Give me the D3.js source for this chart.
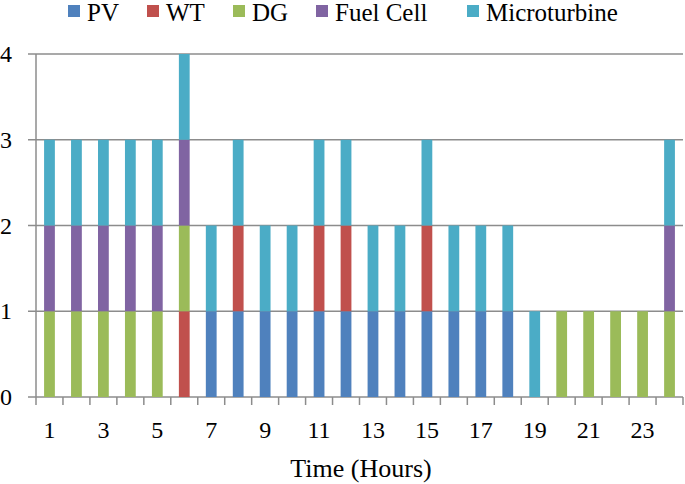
<!DOCTYPE html>
<html>
<head>
<meta charset="utf-8">
<script src="https://cdn.jsdelivr.net/npm/d3@7"></script>
<style>
  body { margin: 0; background: #fff; }
</style>
</head>
<body>
<div id="chart"></div>
<script>
// DATA
const hours = d3.range(1, 25);
const series = ['PV', 'WT', 'DG', 'Fuel Cell', 'Microturbine'];
const pv = [0,0,0,0,0,0,1,1,1,1,1,1,1,1,1,1,1,1,0,0,0,0,0,0];
const wt = [0,0,0,0,0,1,0,1,0,0,1,1,0,0,1,0,0,0,0,0,0,0,0,0];
const dg = [1,1,1,1,1,1,0,0,0,0,0,0,0,0,0,0,0,0,0,1,1,1,1,1];
const fuelCell = [1,1,1,1,1,1,0,0,0,0,0,0,0,0,0,0,0,0,0,0,0,0,0,1];
const microturbine = [1,1,1,1,1,1,1,1,1,1,1,1,1,1,1,1,1,1,1,0,0,0,0,1];
const yTicks = [0, 1, 2, 3, 4];
const colors = ['#4f81bd', '#c0504d', '#9bbb59', '#8064a2', '#4bacc6'];

const width = 685, height = 484;
const margin = { top: 54, right: 2, bottom: 87, left: 36 };
const font = '"Liberation Serif", "Times New Roman", serif';

// build rows for d3.stack
const rows = hours.map((h, i) => ({
  hour: h,
  'PV': pv[i],
  'WT': wt[i],
  'DG': dg[i],
  'Fuel Cell': fuelCell[i],
  'Microturbine': microturbine[i]
}));
const stacked = d3.stack().keys(series)(rows);

const svg = d3.select('#chart').append('svg')
  .attr('width', width)
  .attr('height', height)
  .style('font-family', font);

// SCALES
const xScale = d3.scaleBand()
  .domain(hours)
  .range([margin.left, width - margin.right])
  .paddingInner(0.6)
  .paddingOuter(0.3);

const yScale = d3.scaleLinear()
  .domain([0, 4])
  .range([height - margin.bottom, margin.top]);

const color = d3.scaleOrdinal().domain(series).range(colors);

// gridlines
svg.append('g')
  .selectAll('line')
  .data(yTicks)
  .join('line')
  .attr('x1', margin.left - 8)
  .attr('x2', width - margin.right)
  .attr('y1', d => yScale(d))
  .attr('y2', d => yScale(d))
  .attr('stroke', '#8c8c8c')
  .attr('stroke-width', 1.5);

// y axis line
svg.append('line')
  .attr('x1', margin.left).attr('x2', margin.left)
  .attr('y1', yScale(4)).attr('y2', yScale(0))
  .attr('stroke', '#8c8c8c')
  .attr('stroke-width', 1.5);

// y labels
svg.append('g')
  .selectAll('text')
  .data(yTicks)
  .join('text')
  .attr('x', 12)
  .attr('y', d => yScale(d))
  .attr('dy', '0.34em')
  .attr('text-anchor', 'end')
  .style('font-size', '24px')
  .text(d => d);

// bars
svg.append('g')
  .selectAll('g')
  .data(stacked)
  .join('g')
  .attr('fill', d => color(d.key))
  .selectAll('rect')
  .data(d => d.filter(s => s[1] - s[0] > 0))
  .join('rect')
  .attr('x', d => xScale(d.data.hour))
  .attr('width', xScale.bandwidth())
  .attr('y', d => yScale(d[1]))
  .attr('height', d => yScale(d[0]) - yScale(d[1]));

// x axis ticks at band boundaries
const bounds = d3.range(0, hours.length + 1).map(i => margin.left + i * (width - margin.right - margin.left) / hours.length);
svg.append('g')
  .selectAll('line')
  .data(bounds)
  .join('line')
  .attr('x1', d => d).attr('x2', d => d)
  .attr('y1', yScale(0)).attr('y2', yScale(0) + 8)
  .attr('stroke', '#8c8c8c')
  .attr('stroke-width', 1.5);

// x labels, every other hour
svg.append('g')
  .selectAll('text')
  .data(hours.filter(h => h % 2 === 1))
  .join('text')
  .attr('x', d => xScale(d) + xScale.bandwidth() / 2)
  .attr('y', 438)
  .attr('text-anchor', 'middle')
  .style('font-size', '24px')
  .text(d => d);

// axis title
svg.append('text')
  .attr('x', 361)
  .attr('y', 477)
  .attr('text-anchor', 'middle')
  .style('font-size', '26px')
  .text('Time (Hours)');

// legend
const legendX = [68, 147, 233, 316, 467];
const legend = svg.append('g')
  .selectAll('g')
  .data(series)
  .join('g')
  .attr('transform', (d, i) => `translate(${legendX[i]},0)`);
legend.append('rect')
  .attr('x', 0).attr('y', 5)
  .attr('width', 12).attr('height', 12)
  .attr('fill', d => color(d));
legend.append('text')
  .attr('x', 19)
  .attr('y', 21)
  .style('font-size', '25px')
  .text(d => d);
</script>
</body>
</html>
